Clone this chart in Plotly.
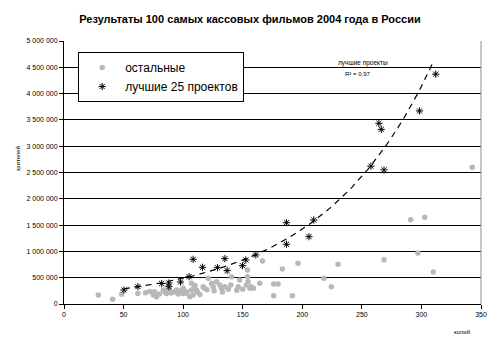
import numpy as np
import plotly.graph_objects as go

# "остальные" (other films)
other_x = [28.8, 40.8, 48.4, 68.5, 74.9, 77.7, 76, 83.3, 84.7, 88.3, 93, 94.5, 95.8, 102.9, 103,
           105.6, 107, 107, 108.4, 109, 111, 116.8, 121, 123.8, 125.2, 128, 130.8, 132.2, 140,
           140.6, 146.2, 147.5, 154, 154, 154.5, 153, 156, 159, 164.3, 166.6, 176, 179.7, 176,
           183.3, 191.7, 196.4, 218, 224.4, 230, 268.6, 291, 297, 302.8, 310, 342.6,
           100, 112, 118, 98, 86, 126, 133, 150, 157, 72, 114, 135, 80, 110, 100, 90, 145, 120, 138, 62]
other_y = [171e3, 89e3, 184e3, 215e3, 171e3, 139e3, 234e3, 266e3, 234e3, 279e3, 234e3, 266e3, 190e3,
           234e3, 203e3, 139e3, 266e3, 393e3, 171e3, 298e3, 266e3, 329e3, 488e3, 393e3, 329e3,
           424e3, 361e3, 298e3, 361e3, 520e3, 329e3, 456e3, 646e3, 520e3, 424e3, 361e3, 298e3,
           298e3, 393e3, 817e3, 380e3, 380e3, 158e3, 665e3, 158e3, 774e3, 488e3, 329e3, 755e3,
           840e3, 1.6e6, 0.97e6, 1.65e6, 610e3, 2.6e6,
           200e3, 230e3, 300e3, 250e3, 200e3, 250e3, 230e3, 280e3, 330e3, 240e3, 180e3, 330e3,
           190e3, 350e3, 300e3, 210e3, 260e3, 270e3, 280e3, 200e3]

# "лучшие 25 проектов" (top 25)
best_x = [50.3, 62, 82, 88, 88, 97.8, 105, 108.4, 116.3, 128.8, 135, 136.9, 149.8, 152.6, 161,
          186.7, 186.7, 205.6, 209.6, 257.6, 264.3, 266.3, 268.6, 298.4, 312]
best_y = [266e3, 329e3, 390e3, 400e3, 329e3, 418e3, 520e3, 850e3, 698e3, 691e3, 862e3, 634e3,
          729e3, 837e3, 932e3, 1.546e6, 1.135e6, 1.28e6, 1.597e6, 2.62e6, 3.435e6, 3.32e6,
          2.55e6, 3.67e6, 4.37e6]

x_ticks = [0, 50, 100, 150, 200, 250, 300, 350]
y_ticks = [0, 500000, 1000000, 1500000, 2000000, 2500000, 3000000, 3500000, 4000000, 4500000, 5000000]

# exponential trendline fitted to the top-25 series
bx = np.array(best_x)
by = np.array(best_y)
b, lna = np.polyfit(bx, np.log(by), 1)
tx = np.linspace(min(best_x), max(best_x) - 2, 100)
ty = np.exp(lna) * np.exp(b * tx)

font = "Liberation Sans, Arial, sans-serif"

fig = go.Figure()
fig.add_trace(go.Scatter(
    x=other_x, y=other_y, mode="markers", name="остальные",
    marker=dict(symbol="circle", size=5.5, color="#b8b8b8", line=dict(width=0)),
))
fig.add_trace(go.Scatter(
    x=best_x, y=best_y, mode="markers", name="лучшие 25 проектов",
    marker=dict(symbol="asterisk-open", size=6, color="black", line=dict(width=1, color="black")),
))
fig.add_trace(go.Scatter(
    x=tx, y=ty, mode="lines", showlegend=False, hoverinfo="skip",
    line=dict(color="black", width=1.2, dash="6px,5px"),
))

fig.update_layout(
    width=500, height=353,
    margin=dict(l=64, r=19, t=41, b=49),
    paper_bgcolor="white", plot_bgcolor="white",
    separators=", ",
    font=dict(family=font, color="black"),
    title=dict(text="<b>Результаты 100 самых кассовых фильмов 2004 года в России</b>",
               x=0.5, xanchor="center", xref="container", y=0.945, yref="container", yanchor="middle",
               font=dict(size=11, family=font, color="black")),
    showlegend=True,
    legend=dict(x=0.034, y=0.958, xanchor="left", yanchor="top",
                bgcolor="white", bordercolor="black", borderwidth=1,
                font=dict(size=12, family=font), tracegroupgap=0,
                itemwidth=36),
    xaxis=dict(range=[0, 350], tickvals=x_ticks, showgrid=False, zeroline=False,
               showline=True, linecolor="black", linewidth=1,
               ticks="outside", ticklen=4, tickcolor="black",
               tickfont=dict(size=7, family=font)),
    yaxis=dict(range=[0, 5000000], tickvals=y_ticks, tickformat=",d",
               showgrid=True, gridcolor="black", gridwidth=1, zeroline=False,
               showline=True, linecolor="black", linewidth=1,
               ticks="outside", ticklen=4, tickcolor="black",
               tickfont=dict(size=7, family=font)),
)

fig.add_shape(type="line", xref="paper", yref="paper", x0=1, x1=1, y0=0, y1=1,
              line=dict(color="#909090", width=1))

fig.add_annotation(text="зрителей", textangle=-90, xref="paper", yref="paper",
                   x=-0.11, y=0.55, xanchor="center", yanchor="middle",
                   showarrow=False, font=dict(size=6, family=font))
fig.add_annotation(text="копий", xref="paper", yref="paper",
                   x=0.954, y=-0.106, xanchor="center", yanchor="middle",
                   showarrow=False, font=dict(size=6, family=font))
fig.add_annotation(text="лучшие проекты", x=251, y=4.58e6, xref="x", yref="y",
                   xanchor="center", yanchor="middle", showarrow=False, font=dict(size=6.5, family=font))
fig.add_annotation(text="R² = 0,97", x=247, y=4.37e6, xref="x", yref="y",
                   xanchor="center", yanchor="middle", showarrow=False, font=dict(size=6, family=font))

fig.write_html("out.html")
